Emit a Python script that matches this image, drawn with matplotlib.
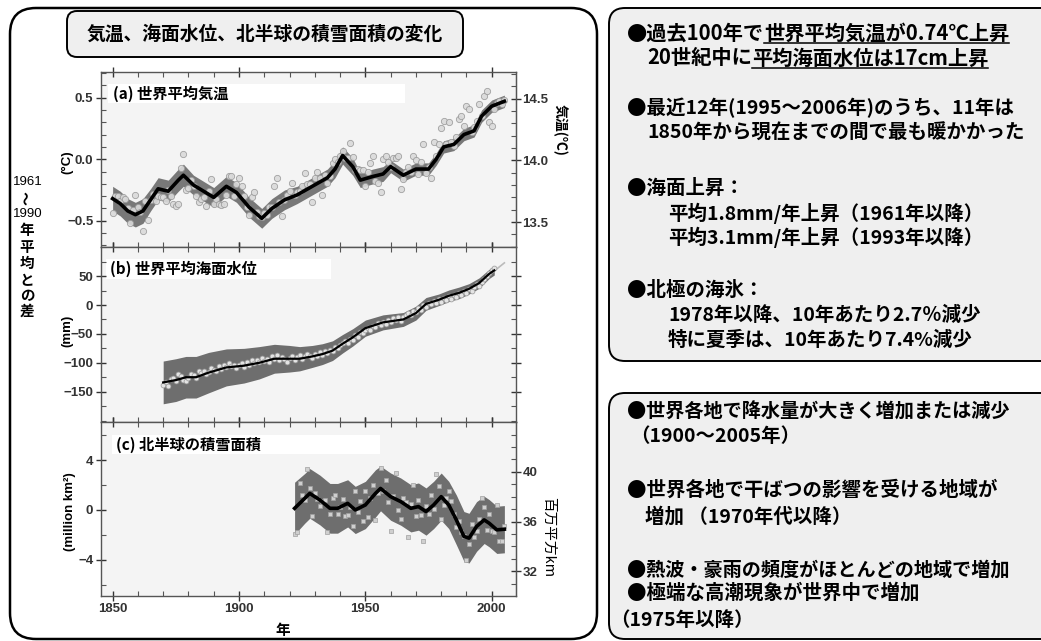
import numpy as np
import matplotlib
matplotlib.use('Agg')
import matplotlib.pyplot as plt
from matplotlib.patches import FancyBboxPatch, Rectangle
from matplotlib.lines import Line2D
from matplotlib.ticker import MultipleLocator

plt.rcParams['font.family'] = ['Noto Sans CJK JP', 'DejaVu Sans']
plt.rcParams['font.weight'] = 'bold'

# ---- (a) global mean temperature, anomaly vs 1961-1990 (deg C)
temp_years = np.arange(1850, 2006)
temp_anom = [
    -0.44, -0.30, -0.30, -0.34, -0.31, -0.32, -0.40, -0.52, -0.41, -0.29,
    -0.39, -0.43, -0.58, -0.34, -0.49, -0.33, -0.28, -0.34, -0.30, -0.31,
    -0.31, -0.34, -0.25, -0.30, -0.36, -0.38, -0.36, -0.07, 0.04, -0.25,
    -0.23, -0.17, -0.22, -0.30, -0.35, -0.32, -0.31, -0.38, -0.26, -0.16,
    -0.36, -0.32, -0.36, -0.37, -0.36, -0.29, -0.14, -0.14, -0.30, -0.20,
    -0.15, -0.22, -0.30, -0.39, -0.45, -0.31, -0.27, -0.43, -0.46, -0.47,
    -0.44, -0.45, -0.39, -0.39, -0.22, -0.15, -0.35, -0.46, -0.33, -0.29,
    -0.26, -0.19, -0.29, -0.27, -0.26, -0.22, -0.11, -0.20, -0.20, -0.35,
    -0.15, -0.10, -0.15, -0.29, -0.13, -0.19, -0.14, -0.03, 0.00, -0.02,
    0.03, 0.07, 0.01, 0.01, 0.13, 0.02, -0.09, -0.08, -0.09, -0.09,
    -0.22, -0.10, -0.03, 0.03, -0.18, -0.19, -0.27, 0.00, 0.03, -0.02,
    -0.06, 0.01, 0.01, 0.03, -0.24, -0.16, -0.10, -0.06, -0.10, 0.03,
    -0.01, -0.12, -0.02, 0.12, -0.11, -0.06, -0.15, 0.14, 0.03, 0.12,
    0.25, 0.31, 0.12, 0.30, 0.14, 0.11, 0.18, 0.33, 0.35, 0.27,
    0.43, 0.41, 0.22, 0.26, 0.31, 0.45, 0.35, 0.51, 0.55, 0.30,
    0.27, 0.41, 0.46, 0.47, 0.45, 0.48,
]
temp_smooth_years = [1850, 1853, 1856, 1859, 1862, 1865, 1868, 1872, 1876, 1878,
                     1882, 1886, 1890, 1895, 1899, 1904, 1909, 1913, 1918, 1923,
                     1929, 1935, 1938, 1941, 1945, 1948, 1953, 1957, 1960, 1965,
                     1970, 1975, 1978, 1981, 1985, 1989, 1993, 1996, 2000, 2005]
temp_smooth = [-0.32, -0.36, -0.42, -0.45, -0.42, -0.33, -0.24, -0.26, -0.17, -0.13,
               -0.21, -0.26, -0.31, -0.22, -0.27, -0.39, -0.48, -0.40, -0.33, -0.29,
               -0.22, -0.15, -0.08, 0.03, -0.06, -0.17, -0.14, -0.12, -0.06, -0.13,
               -0.08, -0.08, 0.00, 0.10, 0.12, 0.20, 0.23, 0.35, 0.43, 0.47]
temp_band = [0.10, 0.10, 0.10, 0.10, 0.10, 0.09, 0.09, 0.09, 0.09, 0.09,
             0.08, 0.08, 0.08, 0.08, 0.08, 0.08, 0.08, 0.08, 0.08, 0.07,
             0.07, 0.07, 0.07, 0.07, 0.07, 0.06, 0.06, 0.06, 0.05, 0.05,
             0.05, 0.05, 0.05, 0.05, 0.05, 0.05, 0.05, 0.05, 0.05, 0.05]
temp_ticks = [-0.5, 0.0, 0.5]
temp_abs_ticks = [13.5, 14.0, 14.5]

# ---- (b) global mean sea level (mm)
sea_years = np.arange(1870, 2002)
sea_level = [
    -138, -133, -140, -128, -126, -132, -120, -123, -130, -131,
    -127, -119, -121, -126, -115, -118, -114, -120, -116, -109,
    -112, -114, -106, -110, -104, -108, -101, -106, -103, -109,
    -104, -100, -107, -98, -103, -96, -101, -95, -99, -92,
    -97, -93, -98, -89, -94, -87, -96, -90, -94, -98,
    -92, -88, -95, -90, -86, -93, -89, -84, -88, -91,
    -85, -88, -82, -86, -80, -83, -77, -80, -72, -75,
    -69, -66, -63, -66, -58, -60, -52, -55, -47, -49,
    -43, -40, -44, -36, -38, -31, -35, -29, -32, -26,
    -29, -22, -26, -20, -27, -21, -17, -14, -18, -10,
    -12, -5, -8, 0, -3, 4, 1, 7, 3, 10,
    6, 12, 9, 15, 11, 18, 14, 20, 17, 24,
    21, 28, 25, 31, 36, 33, 40, 45, 50, 55,
    60, 64,
]
sea_smooth_years = [1870, 1875, 1879, 1883, 1888, 1895, 1902, 1908, 1914, 1920,
                    1924, 1929, 1933, 1937, 1941, 1945, 1950, 1957, 1965, 1970,
                    1974, 1979, 1983, 1987, 1991, 1995, 1999, 2001]
sea_smooth = [-134, -130, -125, -125, -117, -108, -105, -100, -93, -93,
              -93, -89, -85, -79, -67, -56, -40, -30, -25, -14,
              2, 9, 16, 21, 28, 38, 54, 60]
sea_band = [37, 37, 36, 36, 35, 32, 30, 28, 25, 23,
            21, 19, 18, 17, 16, 15, 14, 13, 12, 12,
            11, 10, 10, 10, 9, 9, 8, 8]
sat_years = [1993, 1995, 1997, 1999, 2001, 2003, 2005]
sat_level = [30, 37, 45, 52, 59, 66, 73]
sea_ticks = [-150, -100, -50, 0, 50]

# ---- (c) NH snow cover anomaly (million km2)
snow_years = np.arange(1922, 2006)
snow_anom = [
    -1.9, -1.8, 2.2, 1.2, 0.8, 3.3, 1.8, -0.5, 1.4, 0.9,
    0.3, 0.7, 0.8, -1.8, -0.3, 1.0, 1.2, -0.3, 0.2, 0.9,
    -0.5, -0.4, 0.2, -1.3, 1.5, -0.2, 0.7, -0.9, 1.5, -0.6,
    1.0, 2.0, -0.8, 1.4, 3.4, 1.5, 2.4, 0.6, -1.7, 1.1,
    3.0, 0.0, -0.7, 1.0, 0.6, -2.2, 0.5, 2.0, -0.5, 0.8,
    -0.4, -2.5, 0.3, -0.3, 1.2, 0.1, 2.9, 1.9, -0.7, 0.4,
    1.0, 1.5, 0.7, -0.3, -1.4, -0.9, -1.8, -2.1, -4.0, -2.7,
    -1.1, -2.2, -1.7, -0.7, 1.0, 0.2, -1.6, -0.3, -1.7, -1.8,
    0.4, -2.5, -2.5, -1.3,
]
snow_smooth_years = [1922, 1926, 1928, 1932, 1936, 1939, 1943, 1946, 1950, 1954,
                     1956, 1960, 1964, 1968, 1971, 1974, 1977, 1980, 1983, 1986,
                     1989, 1991, 1994, 1997, 1999, 2002, 2005]
snow_smooth = [0.13, 0.93, 1.33, 0.80, 0.13, 0.13, 0.53, 0.00, 0.40, 1.33,
               1.73, 1.07, 0.67, 0.13, 0.27, -0.13, 0.40, 1.07, 0.40, -0.80,
               -2.13, -2.27, -1.33, -0.80, -1.07, -1.60, -1.55]
snow_band = [2.1, 2.0, 2.0, 2.0, 2.0, 2.0, 1.9, 1.9, 1.9, 1.9,
             1.8, 1.9, 1.9, 1.9, 1.9, 1.9, 1.9, 1.9, 1.9, 2.0,
             2.0, 2.0, 2.0, 1.9, 1.9, 1.9, 1.9]
snow_ticks = [-4, 0, 4]
snow_abs_ticks = [32, 36, 40]

W, H = 1041, 641
fig = plt.figure(figsize=(W / 100, H / 100), dpi=100)
fig.patch.set_facecolor('white')


def fx(x):
    return x / W


def fy(y):
    return 1 - y / H


def rbox(x0, y0, x1, y1, r, fc, lw):
    p = FancyBboxPatch((x0 / 100, (H - y1) / 100), (x1 - x0) / 100, (y1 - y0) / 100,
                       boxstyle='round,pad=0,rounding_size=%f' % (r / 100),
                       transform=fig.dpi_scale_trans, fc=fc, ec='black', lw=lw, zorder=-2)
    fig.add_artist(p)


rbox(10, 8, 597, 639, 26, 'white', 1.8)
rbox(67, 11, 463, 57, 10, '#efefef', 1.4)
rbox(609, 8, 1060, 361, 16, '#efefef', 1.4)
rbox(609, 393, 1060, 639, 16, '#efefef', 1.4)

fig.text(fx(265), fy(34), '気温、海面水位、北半球の積雪面積の変化', fontsize=13.5,
         ha='center', va='center')

left, width = fx(101), (516 - 101) / W
ax_a = fig.add_axes([left, fy(246.7), width, 175 / H])
ax_b = fig.add_axes([left, fy(421.7), width, 175 / H])
ax_c = fig.add_axes([left, fy(595.7), width, 174 / H])

band_c = '#6e6e6e'


def style(ax, yticks, ymin, right=True):
    ax.set_facecolor('#f4f4f4')
    ax.set_xlim(1845.4, 2009.6)
    ax.xaxis.set_major_locator(MultipleLocator(50))
    ax.xaxis.set_minor_locator(MultipleLocator(10))
    ax.set_yticks(yticks)
    ax.yaxis.set_minor_locator(MultipleLocator(ymin))
    ax.tick_params(which='major', direction='inout', length=7, width=1, top=True,
                   right=right, colors='#333', labelsize=9.5, pad=2,
                   labelfontfamily='Liberation Sans')
    ax.tick_params(which='minor', direction='in', length=3.5, width=0.8, top=True,
                   right=right, colors='#555')
    for s in ax.spines.values():
        s.set_color('#555')
        s.set_linewidth(1)


def label_box(ax, rect, text, tx, ty):
    ax.add_patch(Rectangle(rect[:2], rect[2], rect[3], transform=ax.transAxes,
                           fc='white', ec='none', zorder=1))
    ax.text(tx, ty, text, transform=ax.transAxes, fontsize=11, va='center', ha='left', zorder=5)


def secondary(ax, off, ticks, mnr):
    sec = ax.secondary_yaxis('right', functions=(lambda v: v + off, lambda v: v - off))
    sec.set_yticks(ticks)
    sec.yaxis.set_minor_locator(MultipleLocator(mnr))
    sec.tick_params(which='major', direction='inout', length=7, width=1, colors='#333',
                    labelsize=9.5, pad=1, labelfontfamily='Liberation Sans')
    sec.tick_params(which='minor', direction='in', length=3.5, width=0.8, colors='#555')
    sec.spines['right'].set_color('#555')
    return sec


# (a)
style(ax_a, temp_ticks, 0.1, right=False)
ax_a.set_ylim(-0.71, 0.71)
lo = np.array(temp_smooth) - np.array(temp_band)
hi = np.array(temp_smooth) + np.array(temp_band)
ax_a.fill_between(temp_smooth_years, lo, hi, color='#787878', lw=0, zorder=2)
ax_a.plot(temp_years, temp_anom, 'o', ms=4.5, mfc='#dadada', mec='#999999', mew=0.6,
          alpha=0.9, zorder=3)
ax_a.plot(temp_smooth_years, temp_smooth, color='black', lw=2.6, zorder=4)
ax_a.tick_params(labelbottom=False)
ax_a.yaxis.set_major_formatter(lambda v, p: ('%.1f' % v).replace('-', '\u2212'))
sec_a = secondary(ax_a, 14.01, temp_abs_ticks, 0.1)
sec_a.yaxis.set_major_formatter(lambda v, p: '%.1f' % v)
label_box(ax_a, (0.017, 0.821, 0.716, 0.109), '(a) 世界平均気温', 0.029, 0.875)

# (b)
style(ax_b, sea_ticks, 25)
ax_b.set_ylim(-202, 101)
lo = np.array(sea_smooth) - np.array(sea_band)
hi = np.array(sea_smooth) + np.array(sea_band)
ax_b.fill_between(sea_smooth_years, lo, hi, color=band_c, lw=0, zorder=2)
ax_b.plot(sat_years, sat_level, color='#bbbbbb', lw=1.2, zorder=3)
ax_b.plot(sea_years, sea_level, 'o', ms=3.5, mfc='#e4e4e4', mec='#9a9a9a', mew=0.5,
          zorder=3)
ax_b.plot(sea_smooth_years, sea_smooth, color='black', lw=1.6, zorder=4)
ax_b.tick_params(labelbottom=False)
label_box(ax_b, (0.012, 0.815, 0.542, 0.115), '(b) 世界平均海面水位', 0.022, 0.872)

# (c)
style(ax_c, snow_ticks, 2, right=False)
ax_c.set_ylim(-6.9, 7.1)
lo = np.array(snow_smooth) - np.array(snow_band)
hi = np.array(snow_smooth) + np.array(snow_band)
ax_c.fill_between(snow_smooth_years, lo, hi, color=band_c, lw=0, zorder=2)
ax_c.plot(snow_years, snow_anom, 's', ms=3.5, mfc='#cfcfcf', mec='#a0a0a0', mew=0.5,
          zorder=3)
ax_c.plot(snow_smooth_years, snow_smooth, color='black', lw=2.6, zorder=4)
sec_c = secondary(ax_c, 36.93, snow_abs_ticks, 1)
label_box(ax_c, (0.0265, 0.814, 0.646, 0.110), '(c) 北半球の積雪面積', 0.036, 0.869)

# axis titles
fig.text(fx(67), fy(162), '(°C)', rotation=90, fontsize=9.5, ha='center', va='center',
         family='Liberation Sans')
fig.text(fx(67), fy(331), '(mm)', rotation=90, fontsize=9.5, ha='center', va='center',
         family='Liberation Sans')
fig.text(fx(70), fy(512), '(million km²)', rotation=90, fontsize=9.5, ha='center',
         va='center', family='Liberation Sans')
fig.text(fx(560), fy(130), '気温(℃)', rotation=-90, fontsize=10, ha='center', va='center')
fig.text(fx(548), fy(537), '百万平方km', rotation=-90, fontsize=10.5, ha='center',
         va='center', weight='normal')
fig.text(fx(283), fy(630), '年', fontsize=10.5, ha='center', va='center')

# left vertical note
fig.text(fx(28), fy(182), '1961', fontsize=9.5, ha='center', va='center',
         family='Liberation Sans', weight='normal')
fig.text(fx(28), fy(198), '〜', rotation=90, fontsize=10, ha='center', va='center')
fig.text(fx(28), fy(214), '1990', fontsize=9.5, ha='center', va='center',
         family='Liberation Sans', weight='normal')
for ch, yy in zip('年平均との差', [230, 247, 263, 280, 295, 311]):
    fig.text(fx(27), fy(yy), ch, fontsize=10.5, ha='center', va='center')

# right boxes
renderer = fig.canvas.get_renderer()


def line_text(x, y, parts, size=14):
    cur = fx(x)
    for s, ul in parts:
        t = fig.text(cur, fy(y), s, fontsize=size, va='center', ha='left')
        bb = t.get_window_extent(renderer)
        if ul:
            fig.add_artist(Line2D([bb.x0 / W, bb.x1 / W], [fy(y + 10)] * 2,
                                  color='black', lw=1.1))
        cur = bb.x1 / W


line_text(627, 33, [('●過去100年で', False), ('世界平均気温が0.74℃上昇', True)], size=14.6)
line_text(647, 58, [('20世紀中に', False), ('平均海面水位は17cm上昇', True)], size=14.6)
line_text(627, 108, [('●最近12年(1995～2006年)のうち、11年は', False)])
line_text(647, 133, [('1850年から現在までの間で最も暖かかった', False)])
line_text(627, 188, [('●海面上昇：', False)])
line_text(668, 213, [('平均1.8mm/年上昇（1961年以降）', False)])
line_text(668, 237, [('平均3.1mm/年上昇（1993年以降）', False)])
line_text(627, 290, [('●北極の海氷：', False)])
line_text(668, 315, [('1978年以降、10年あたり2.7％減少', False)])
line_text(668, 340, [('特に夏季は、10年あたり7.4%減少', False)])

line_text(627, 412, [('●世界各地で降水量が大きく増加または減少', False)], size=13.8)
line_text(630, 437, [('（1900～2005年）', False)])
line_text(627, 490, [('●世界各地で干ばつの影響を受ける地域が', False)])
line_text(645, 517, [('増加 （1970年代以降）', False)])
line_text(627, 570, [('●熱波・豪雨の頻度がほとんどの地域で増加', False)], size=13.8)
line_text(627, 593, [('●極端な高潮現象が世界中で増加', False)])
line_text(610, 620, [('（1975年以降）', False)])

fig.savefig('out.png', dpi=100)
